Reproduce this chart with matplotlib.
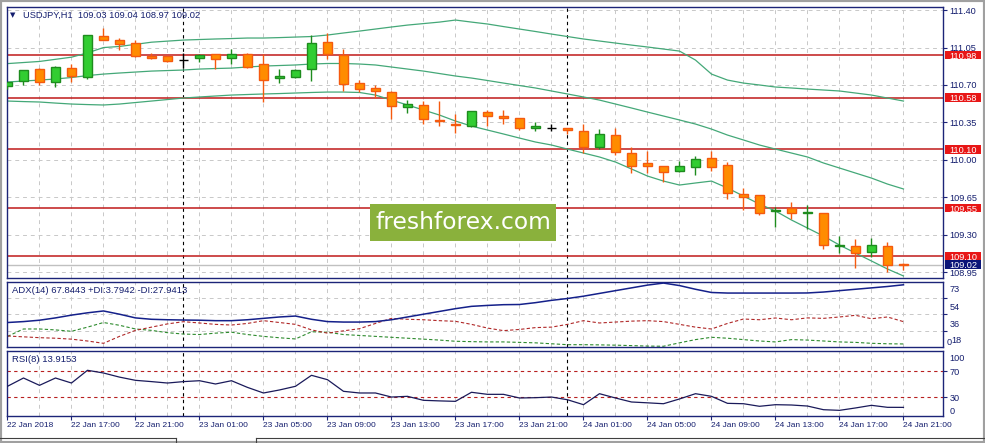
import numpy as np
import matplotlib
matplotlib.use("Agg")
import matplotlib.pyplot as plt
import matplotlib.transforms as mtransforms
from matplotlib.patches import Rectangle
from matplotlib.lines import Line2D

plt.rcParams['font.family'] = ['Liberation Sans', 'DejaVu Sans']

# ---------------- data ----------------
symbol_header = "USDJPY,H1  109.03 109.04 108.97 109.02"
adx_header = "ADX(14) 67.8443 +DI:3.7942 -DI:27.9413"
rsi_header = "RSI(8) 13.9153"

time_labels = ["22 Jan 2018", "22 Jan 17:00", "22 Jan 21:00", "23 Jan 01:00", "23 Jan 05:00",
               "23 Jan 09:00", "23 Jan 13:00", "23 Jan 17:00", "23 Jan 21:00", "24 Jan 01:00",
               "24 Jan 05:00", "24 Jan 09:00", "24 Jan 13:00", "24 Jan 17:00", "24 Jan 21:00"]

opens = [110.69, 110.734, 110.85, 110.725, 110.856, 110.772, 111.158, 111.12, 111.09, 110.97,
         110.968, 110.935, 110.95, 110.987, 110.95, 110.987, 110.893, 110.762, 110.772, 110.846,
         111.10, 110.98, 110.715, 110.67, 110.63, 110.49, 110.51, 110.376, 110.34, 110.32,
         110.445, 110.407, 110.39, 110.295, 110.30, 110.298, 110.267, 110.123, 110.23, 110.06,
         109.968, 109.94, 109.893, 109.93, 110.015, 109.95, 109.678, 109.67, 109.525, 109.547,
         109.504, 109.50, 109.195, 109.195, 109.142, 109.195, 109.03]
highs = [110.73, 110.84, 110.855, 110.875, 110.893, 111.17, 111.235, 111.14, 111.12, 110.995,
         110.97, 110.995, 110.99, 110.99, 111.036, 110.995, 110.987, 110.846, 110.85, 111.167,
         111.183, 111.04, 110.746, 110.70, 110.644, 110.56, 110.55, 110.55, 110.425, 110.46,
         110.47, 110.47, 110.39, 110.357, 110.333, 110.30, 110.34, 110.29, 110.30, 110.117,
         110.083, 109.945, 109.99, 110.036, 110.083, 109.977, 109.74, 109.67, 109.562, 109.604,
         109.575, 109.50, 109.29, 109.26, 109.27, 109.23, 109.04]
lows = [110.66, 110.70, 110.70, 110.685, 110.73, 110.756, 111.12, 111.03, 110.965, 110.94,
        110.915, 110.855, 110.917, 110.846, 110.90, 110.856, 110.544, 110.72, 110.77, 110.737,
        110.94, 110.644, 110.637, 110.575, 110.38, 110.435, 110.335, 110.32, 110.25, 110.31,
        110.316, 110.34, 110.28, 110.272, 110.27, 110.24, 110.06, 110.10, 110.043, 109.875,
        109.88, 109.79, 109.884, 109.856, 109.90, 109.637, 109.53, 109.487, 109.375, 109.45,
        109.355, 109.17, 109.13, 108.99, 109.09, 108.955, 108.97]
closes = [110.725, 110.837, 110.73, 110.865, 110.787, 111.164, 111.123, 111.08, 110.973, 110.955,
          110.92, 110.935, 110.977, 110.94, 110.987, 110.87, 110.744, 110.784, 110.84, 111.09,
          110.987, 110.706, 110.66, 110.64, 110.50, 110.52, 110.38, 110.36, 110.33, 110.454,
          110.413, 110.39, 110.30, 110.313, 110.30, 110.276, 110.117, 110.24, 110.07, 109.945,
          109.945, 109.884, 109.94, 110.005, 109.936, 109.693, 109.656, 109.506, 109.53, 109.506,
          109.51, 109.20, 109.20, 109.13, 109.205, 109.015, 109.02]

bb_upper = [110.90, 110.91, 110.92, 110.94, 110.96, 111.00, 111.05, 111.06, 111.08, 111.10,
            111.11, 111.12, 111.125, 111.13, 111.134, 111.139, 111.139, 111.143, 111.148, 111.153,
            111.167, 111.186, 111.204, 111.223, 111.242, 111.260, 111.274, 111.288, 111.307, 111.288,
            111.270, 111.246, 111.223, 111.200, 111.176, 111.153, 111.130, 111.111, 111.092, 111.073,
            111.055, 111.036, 111.017, 110.933, 110.802, 110.746, 110.718, 110.700, 110.681, 110.672,
            110.662, 110.653, 110.644, 110.625, 110.606, 110.578, 110.550]
bb_middle = [110.728, 110.737, 110.746, 110.756, 110.770, 110.788, 110.802, 110.812, 110.821, 110.830,
             110.835, 110.840, 110.849, 110.854, 110.858, 110.868, 110.877, 110.882, 110.887, 110.896,
             110.901, 110.901, 110.896, 110.887, 110.868, 110.849, 110.830, 110.807, 110.784, 110.765,
             110.742, 110.718, 110.695, 110.672, 110.644, 110.616, 110.588, 110.559, 110.522, 110.485,
             110.447, 110.410, 110.373, 110.335, 110.288, 110.232, 110.186, 110.139, 110.101, 110.064,
             110.027, 109.971, 109.924, 109.877, 109.830, 109.774, 109.728]
bb_lower = [110.550, 110.545, 110.541, 110.531, 110.522, 110.517, 110.513, 110.522, 110.536, 110.550,
            110.564, 110.578, 110.588, 110.597, 110.606, 110.611, 110.616, 110.620, 110.625, 110.630,
            110.634, 110.634, 110.630, 110.606, 110.559, 110.513, 110.466, 110.419, 110.363, 110.316,
            110.279, 110.242, 110.204, 110.167, 110.139, 110.101, 110.064, 110.027, 109.980, 109.915,
            109.849, 109.802, 109.765, 109.784, 109.802, 109.737, 109.662, 109.587, 109.522, 109.438,
            109.363, 109.288, 109.204, 109.129, 109.055, 108.980, 108.915]

adx = [27, 28, 29.5, 32, 35, 37.5, 39.5, 36, 32, 30.5,
       30, 29.7, 29.5, 29, 29, 30, 31.5, 33, 34, 30.5,
       28, 27.5, 27.5, 28, 30, 33, 36, 39, 42, 44.5,
       45.5, 46.3, 46.5, 48.5, 51, 53, 55.5, 58.5, 61.5, 64.5,
       67.5, 69.7, 67, 63, 59.5, 58.9, 58.9, 58.9, 58.9, 58.9,
       59, 60, 61.5, 63, 64.5, 66, 67.84]
plus_di = [12, 20, 20, 19, 17.5, 22, 27, 24, 20, 18.5,
           16, 14.5, 14, 15.5, 16.5, 14, 12, 10.5, 9.2, 17,
           16.5, 14, 13, 12, 11, 10, 9, 8, 6.7, 6.3,
           6, 6, 5.5, 5, 4, 3, 3, 2.8, 2.5, 2,
           1.5, 1.3, 5, 8.5, 11, 10, 8.5, 7, 6, 8.5,
           8, 7, 6, 5.5, 4.5, 4, 3.79]
minus_di = [12.4, 11.5, 10.6, 10, 9, 7, 4.5, 12, 18.5, 22,
            25.5, 27.9, 26.5, 25, 24.3, 26, 29, 27, 25, 19,
            15.5, 18, 20.3, 26, 31.5, 30.5, 30, 29, 28.3, 25,
            21, 18.2, 19.5, 21.5, 22, 25, 29, 26.5, 27.5, 28.5,
            29, 28, 25, 22, 20, 26, 30.8, 30, 31.9, 30,
            32, 31.5, 33, 34.8, 31.1, 33, 27.94]
rsi = [46.7, 59.6, 48.2, 59.6, 51.8, 71.6, 67.4, 61, 56, 54,
       51.8, 54, 55.4, 50.3, 55.4, 45, 36.3, 41, 46.7, 63.8,
       57, 38.9, 36.3, 36.3, 30, 31.1, 24.9, 24, 23.3, 37.4,
       34.2, 34.2, 28.5, 29, 30, 25.8, 18.1, 35.2, 28.5, 22.3,
       21, 19.6, 27, 35.2, 31.1, 20.2, 19.6, 15.6, 18.1, 17.6,
       16, 10.3, 9.3, 13, 17.1, 14, 13.9153]

price_ticks = [111.40, 111.05, 110.70, 110.35, 110.00, 109.65, 109.30, 108.95]
level_lines = [110.98, 110.58, 110.10, 109.55, 109.10]
bid_price = 109.02
adx_ticks = [73, 54, 36, 18, 0]
rsi_ticks = [100, 70, 30, 0]
rsi_levels = [70, 30]
day_separators = [11, 35]  # candle index of 00:00 of 23 Jan and 24 Jan

# ---------------- styles ----------------
W, H = 985, 443
NAVY_TXT = '#141E6E'
SPINE = '#1C2478'
GRID = '#C8C8C8'
BULL_FACE, BULL_EDGE = '#32CD32', '#1E8C1E'
BEAR_FACE, BEAR_EDGE = '#FF8C00', '#F55A0F'
LEVEL = '#C01A1A'
RED_BOX = '#E81616'
BID_BOX = '#0A1478'
BB = '#44A878'
ADX_BLUE = '#14208A'
DI_GREEN = '#2E8B2E'
DI_RED = '#B02828'
RSI_LINE = '#1A1A5A'
RSI_LEVEL = '#B82020'
WATERMARK = '#8AB13C'
FS = 6.6

fig = plt.figure(figsize=(W / 100, H / 100), dpi=100)
fig.patch.set_facecolor('white')


def fax(left, top, right, bottom):
    return fig.add_axes([left / W, 1 - bottom / H, (right - left) / W, (bottom - top) / H])


ax_main = fax(7, 7, 943, 278)
ax_adx = fax(7, 281.5, 943, 347)
ax_rsi = fax(7, 350.5, 943, 416)

n = len(closes)
x = np.arange(n)
xlim = (-0.03, 58.47)

for ax in (ax_main, ax_adx, ax_rsi):
    ax.set_xlim(*xlim)
    ax.set_facecolor('white')
    for s in ax.spines.values():
        s.set_color(SPINE)
        s.set_linewidth(1.0)
    for xi in x[::2]:
        ax.axvline(xi, color=GRID, lw=0.7, ls=(0, (4, 4)), zorder=0)
    for d in day_separators:
        ax.axvline(d, color='black', lw=0.8, ls=(0, (3, 3)), zorder=1)
    ax.yaxis.tick_right()
    ax.tick_params(axis='y', direction='out', length=3, width=0.8, colors=SPINE,
                   labelcolor=NAVY_TXT, labelsize=FS, pad=1.6)
    ax.tick_params(axis='x', which='both', bottom=False, labelbottom=False)

# ---------------- main price panel ----------------
ax_main.set_ylim(108.896, 111.429)
for v in price_ticks:
    ax_main.axhline(v, color=GRID, lw=0.7, ls=(0, (4, 4)), zorder=0)
ax_main.set_yticks(price_ticks)
ax_main.set_yticklabels([f"{v:.2f}" for v in price_ticks])

ax_main.axhline(bid_price, color='#C0C0C0', lw=1.0, zorder=1)
for lv in level_lines:
    ax_main.axhline(lv, color=LEVEL, lw=1.1, zorder=2)

ax_main.plot(x, bb_upper, color=BB, lw=0.9, zorder=2)
ax_main.plot(x, bb_middle, color=BB, lw=0.9, zorder=2)
ax_main.plot(x, bb_lower, color=BB, lw=0.9, zorder=2)

o = np.array(opens); c = np.array(closes)
hi = np.array(highs); lo = np.array(lows)
wick_cols, face_cols, edge_cols = [], [], []
for oi, ci in zip(o, c):
    if abs(ci - oi) < 1e-9:
        wick_cols.append('black'); face_cols.append('black'); edge_cols.append('black')
    elif ci > oi:
        wick_cols.append(BULL_EDGE); face_cols.append(BULL_FACE); edge_cols.append(BULL_EDGE)
    else:
        wick_cols.append(BEAR_EDGE); face_cols.append(BEAR_FACE); edge_cols.append(BEAR_EDGE)
ax_main.vlines(x, lo, hi, colors=wick_cols, lw=1.0, zorder=3)
ax_main.bar(x, np.abs(c - o), bottom=np.minimum(o, c), width=0.6, color=face_cols,
            edgecolor=edge_cols, linewidth=1.0, zorder=4)

trans_r = mtransforms.blended_transform_factory(ax_main.transAxes, ax_main.transData)
box_h = 0.082
for lv in level_lines:
    ax_main.add_patch(Rectangle((1.0021, lv - box_h / 2), 0.0385, box_h, transform=trans_r,
                                fc=RED_BOX, ec='none', clip_on=False, zorder=6))
    ax_main.text(1.0067, lv, f"{lv:.2f}", transform=trans_r, color='white', fontsize=FS,
                 ha='left', va='center_baseline', clip_on=False, zorder=7)
ax_main.add_patch(Rectangle((1.0021, bid_price - box_h / 2), 0.0385, box_h, transform=trans_r,
                            fc=BID_BOX, ec='none', clip_on=False, zorder=6))
ax_main.text(1.0067, bid_price, f"{bid_price:.2f}", transform=trans_r, color='white', fontsize=FS,
             ha='left', va='center_baseline', clip_on=False, zorder=7)

ax_main.text(0.0065, 0.9705, "\u25BC", transform=ax_main.transAxes, fontsize=5,
             family='DejaVu Sans', color=NAVY_TXT, ha='center', va='center')
ax_main.text(0.0168, 0.9705, symbol_header, transform=ax_main.transAxes, fontsize=6.7,
             color=NAVY_TXT, ha='left', va='center')

# watermark
ax_main.add_patch(Rectangle((0.388, 0.1365), 0.1987, 0.1365, transform=ax_main.transAxes,
                            fc=WATERMARK, ec='none', zorder=8))
ax_main.text(0.388 + 0.1987 / 2, 0.1365 + 0.1365 / 2, "freshforex.com", transform=ax_main.transAxes,
             fontsize=16.8, family='DejaVu Sans', color='white', ha='center', va='center', zorder=9)

# ---------------- ADX panel ----------------
ax_adx.set_ylim(0.5, 71.4)
for v in adx_ticks[1:-1]:
    ax_adx.axhline(v, color=GRID, lw=0.7, ls=(0, (4, 4)), zorder=0)
ax_adx.plot(x, adx, color=ADX_BLUE, lw=1.1, zorder=3)
ax_adx.plot(x, plus_di, color=DI_GREEN, lw=0.8, ls=(0, (3, 2)), zorder=2)
ax_adx.plot(x, minus_di, color=DI_RED, lw=0.8, ls=(0, (3, 2)), zorder=2)
ax_adx.set_yticks(adx_ticks[1:-1])
ax_adx.set_yticklabels([])
base = mtransforms.blended_transform_factory(ax_adx.transAxes, ax_adx.transData)
for v, off, xa in zip(adx_ticks, [8, 9, 9, 9, -5.5], [1.0067, 1.0067, 1.0067, 1.0085, 1.0043]):
    t = base + mtransforms.ScaledTranslation(0, -off / 100, fig.dpi_scale_trans)
    ax_adx.text(xa, v, str(v), transform=t, fontsize=FS, color=NAVY_TXT,
                ha='left', va='center_baseline', clip_on=False)
ax_adx.text(0.0053, 0.87, adx_header, transform=ax_adx.transAxes, fontsize=6.8,
            color=NAVY_TXT, ha='left', va='center')

# ---------------- RSI panel ----------------
ax_rsi.set_ylim(0.5, 102.4)
for v in rsi_levels:
    ax_rsi.axhline(v, color=RSI_LEVEL, lw=0.8, ls=(0, (3, 3)), zorder=1)
ax_rsi.plot(x, rsi, color=RSI_LINE, lw=0.9, zorder=3)
ax_rsi.set_yticks(rsi_ticks[1:-1])
ax_rsi.set_yticklabels([])
base = mtransforms.blended_transform_factory(ax_rsi.transAxes, ax_rsi.transData)
for v, off in zip(rsi_ticks, [5, 0.5, 0, -6]):
    t = base + mtransforms.ScaledTranslation(0, -off / 100, fig.dpi_scale_trans)
    ax_rsi.text(1.0067, v, str(v), transform=t, fontsize=FS, color=NAVY_TXT,
                ha='left', va='center_baseline', clip_on=False)
ax_rsi.text(0.0053, 0.87, rsi_header, transform=ax_rsi.transAxes, fontsize=6.8,
            color=NAVY_TXT, ha='left', va='center')

ax_rsi.set_xticks(x[::4])
ax_rsi.set_xticklabels(time_labels, ha='left')
ax_rsi.tick_params(axis='x', bottom=True, labelbottom=True, direction='out', length=3,
                   width=0.8, colors=SPINE, labelcolor=NAVY_TXT, labelsize=6.0, pad=1.5)

# ---------------- window frame ----------------
fig.add_artist(Rectangle((0, 0), 1, 1, transform=fig.transFigure, fill=False,
                         ec='#A0A0A0', lw=3))
yt = 1 - 438 / H
fig.add_artist(Line2D([0, 176 / W], [yt, yt], transform=fig.transFigure, color='#404040', lw=0.8))
fig.add_artist(Line2D([176 / W, 176 / W], [yt, 0], transform=fig.transFigure, color='#404040', lw=0.8))
fig.add_artist(Line2D([256 / W, 1], [yt, yt], transform=fig.transFigure, color='#404040', lw=0.8))
fig.add_artist(Line2D([256 / W, 256 / W], [yt, 0], transform=fig.transFigure, color='#404040', lw=0.8))

fig.savefig("out.png", dpi=100, facecolor='white')
